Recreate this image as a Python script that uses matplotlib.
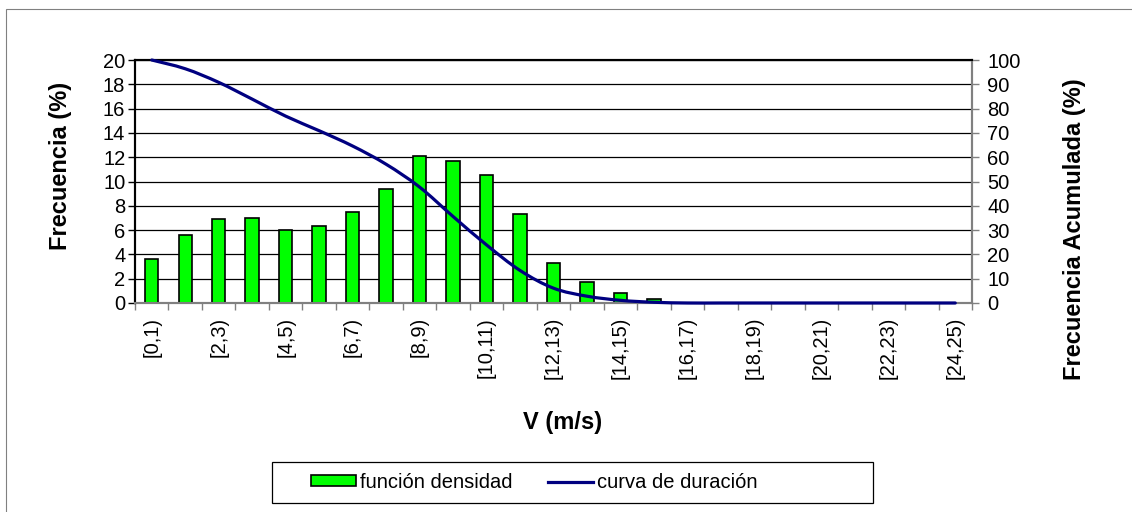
import matplotlib
matplotlib.use("Agg")
import matplotlib.pyplot as plt
from matplotlib.path import Path
from matplotlib.patches import PathPatch, Rectangle
from matplotlib.lines import Line2D
import numpy as np

plt.rcParams['font.family'] = ['Liberation Sans', 'DejaVu Sans']

categories = [f"[{i},{i+1})" for i in range(25)]
frecuencia = [3.62, 5.59, 6.90, 6.99, 6.00, 6.30, 7.50, 9.42, 12.08, 11.70, 10.52,
              7.32, 3.29, 1.70, 0.79, 0.33, 0, 0, 0, 0, 0, 0, 0, 0, 0]
acumulada = [100, 96.4, 90.8, 83.9, 76.9, 70.9, 64.6, 57.1, 47.7, 35.6, 23.9,
             13.4, 6.1, 2.8, 1.1, 0.3, 0, 0, 0, 0, 0, 0, 0, 0, 0]
left_ticks = list(range(0, 21, 2))
right_ticks = list(range(0, 101, 10))

W, H = 1132, 512
fig = plt.figure(figsize=(W / 100, H / 100), dpi=100)

# outer chart border
fig.add_artist(Rectangle((6 / W, -0.1), 1.2, (H - 9) / H + 0.1, transform=fig.transFigure,
                         fill=False, edgecolor='#808080', lw=0.8))

ax = fig.add_axes([135 / W, 1 - 303 / H, 837 / W, 243 / H])
ax2 = ax.twinx()

TF = 14.5
LF = 17

x = np.arange(len(categories))
ax.bar(x, frecuencia, width=0.4, color='#00FF00', edgecolor='black', linewidth=1.2, zorder=3)
ax.set_xlim(-0.5, len(categories) - 0.5)
ax.set_ylim(0, 20)
ax.set_yticks(left_ticks)
ax.set_yticklabels([str(t) for t in left_ticks], fontsize=TF)
ax.grid(axis='y', color='black', linewidth=0.9, zorder=0)
ax.set_axisbelow(True)

ax.set_xticks(np.arange(-0.5, len(categories), 1), minor=False)
ax.set_xticklabels([])
ax.set_xticks(x[::2], minor=True)
ax.set_xticklabels([categories[i] for i in x[::2]], minor=True, rotation=90, fontsize=TF)
ax.tick_params(axis='x', which='major', length=5, direction='out', color='#808080', width=1)
ax.tick_params(axis='x', which='minor', length=0, pad=10)
ax.tick_params(axis='y', length=5, direction='out', width=1, pad=2)

# smooth (Excel-like) curve on secondary axis
pts = np.column_stack([x, acumulada]).astype(float)
verts = [tuple(pts[0])]
codes = [Path.MOVETO]
n = len(pts)
for i in range(n - 1):
    p0 = pts[max(i - 1, 0)]
    p1 = pts[i]
    p2 = pts[i + 1]
    p3 = pts[min(i + 2, n - 1)]
    c1 = p1 + (p2 - p0) / 6.0
    c2 = p2 - (p3 - p1) / 6.0
    verts += [tuple(c1), tuple(c2), tuple(p2)]
    codes += [Path.CURVE4] * 3
ax2.add_patch(PathPatch(Path(verts, codes), fill=False, edgecolor='#000080', lw=2.3,
                        capstyle='round', zorder=4, clip_on=False))
ax2.set_ylim(0, 100)
ax2.set_yticks(right_ticks)
ax2.set_yticklabels([str(t) for t in right_ticks], fontsize=TF)
ax2.tick_params(axis='y', length=5, direction='out', color='#808080', width=1, pad=6)

for a in (ax, ax2):
    a.spines['top'].set_color('black')
    a.spines['top'].set_linewidth(1.5)
    a.spines['left'].set_color('black')
    a.spines['left'].set_linewidth(1.5)
    a.spines['right'].set_color('#808080')
    a.spines['right'].set_linewidth(1.5)
    a.spines['bottom'].set_color('#808080')
    a.spines['bottom'].set_linewidth(1.5)

ax.set_ylabel('Frecuencia (%)', fontsize=LF, fontweight='bold')
ax2.set_ylabel('Frecuencia Acumulada (%)', fontsize=LF, fontweight='bold', rotation=90)
ax.yaxis.set_label_coords((61 - 135) / 837, (303 - 166) / 243)
ax2.yaxis.set_label_coords((1074 - 135) / 837, (303 - 229) / 243)
ax.yaxis.label.set_va('center')
ax2.yaxis.label.set_va('center')
ax.set_xlabel('V (m/s)', fontsize=LF, fontweight='bold')
ax.xaxis.set_label_coords((563 - 135) / 837, (303 - 423) / 243)
ax.xaxis.label.set_va('center')

# legend
fig.add_artist(Rectangle((272 / W, 1 - 503 / H), (873 - 272) / W, 41 / H,
                         transform=fig.transFigure, fill=True, facecolor='white',
                         edgecolor='black', lw=0.9))
handles = [Rectangle((0, 0), 1, 1, facecolor='#00FF00', edgecolor='black', lw=1.2),
           Line2D([], [], color='#000080', lw=2.3)]
leg = fig.legend(handles, ['función densidad', 'curva de duración'], loc='center',
                 bbox_to_anchor=(534 / W, 1 - 482.5 / H), ncol=2, fontsize=TF,
                 frameon=False, handlelength=2.25, handleheight=0.45,
                 handletextpad=0.2, columnspacing=1.75, borderpad=0.2, borderaxespad=0)

fig.savefig('out.png', dpi=100, facecolor='white')
